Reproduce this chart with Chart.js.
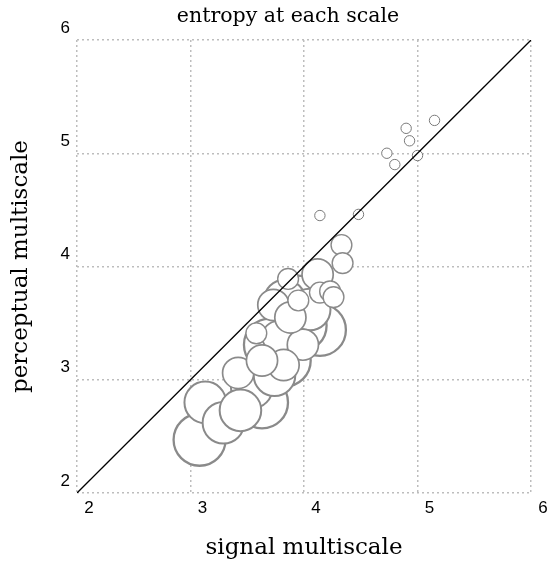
<!DOCTYPE html>
<html>
<head>
<meta charset="utf-8">
<script src="https://cdn.jsdelivr.net/npm/chart.js@4"></script>
<style>
  html, body { margin: 0; padding: 0; background: #fff; }
  #wrap { width: 550px; height: 563px; }
</style>
</head>
<body>
<div id="wrap"><canvas id="chartEntropy"></canvas></div>
<script>
// ==================== Data ====================
// one point per subject and scale: x = signal multiscale entropy, y = perceptual
const scaleLevel = [
  5, 5, 5, 5, 5, 5, 5,
  4, 4, 4, 4, 4, 4, 4,
  3, 3, 3, 3, 3, 3, 3, 3,
  2, 2, 2, 2, 2, 2, 2, 2,
  1, 1, 1, 1, 1, 1, 1, 1
];
const signalVals = [
  3.08, 3.63, 4.14, 3.95, 3.70, 3.83, 3.97,
  3.13, 3.29, 3.54, 3.83, 3.74, 3.44, 4.05,
  4.12, 3.73, 3.77, 3.99, 3.82, 3.42, 3.88, 3.63,
  3.86, 3.95, 4.14, 4.23, 4.33, 4.34, 3.58, 4.26,
  5.15, 4.90, 4.93, 4.73, 5.00, 4.80, 4.14, 4.48
];
const perceptVals = [
  2.47, 2.80, 3.44, 3.69, 3.31, 3.17, 3.48,
  2.80, 2.62, 2.93, 3.70, 3.04, 2.73, 3.62,
  3.93, 3.66, 3.38, 3.31, 3.13, 3.06, 3.55, 3.17,
  3.89, 3.70, 3.77, 3.78, 4.19, 4.03, 3.41, 3.73,
  5.29, 5.22, 5.11, 5.00, 4.98, 4.90, 4.45, 4.46
];
const diagX = [2, 6];
const axisTicks = [2, 3, 4, 5, 6];

// ==================== Helpers ====================
const serif = '"DejaVu Serif", "Liberation Serif", serif';
const sans = '"Liberation Sans", Arial, sans-serif';

const bubbles = signalVals.map((x, i) => ({ x, y: perceptVals[i], r: 5.2 * scaleLevel[i] }));
const diagonal = diagX.map(v => ({ x: v, y: v }));

const titlePlugin = {
  id: 'topTitle',
  afterDraw(chart) {
    const c = chart.ctx;
    c.save();
    c.font = '20.5px ' + serif;
    c.fillStyle = '#000';
    c.textAlign = 'center';
    c.textBaseline = 'alphabetic';
    c.fillText('entropy at each scale', 288, 22);
    c.restore();
  }
};

// ==================== Chart ====================
const ctx = document.getElementById('chartEntropy').getContext('2d');
new Chart(ctx, {
  type: 'bubble',
  data: {
    datasets: [
      {
        type: 'line',
        data: diagonal,
        borderColor: '#000',
        borderWidth: 1.3,
        pointRadius: 0,
        fill: false,
        order: 0
      },
      {
        data: bubbles,
        backgroundColor: '#fff',
        borderColor: c => scaleLevel[c.dataIndex] === 1 ? '#7a7a7a' : '#8a8a8a',
        borderWidth: c => [0, 1, 1.4, 1.7, 2, 2.3][scaleLevel[c.dataIndex]],
        order: 1
      }
    ]
  },
  options: {
    responsive: true,
    maintainAspectRatio: false,
    animation: false,
    events: [],
    layout: { autoPadding: false, padding: { top: 40, right: 19, left: 0, bottom: 0 } },
    plugins: { legend: { display: false }, tooltip: { enabled: false } },
    scales: {
      x: {
        type: 'linear', min: 2, max: 6,
        afterBuildTicks: s => { s.ticks = axisTicks.map(v => ({ value: v })); },
        afterFit: s => { s.height = 70; s.paddingLeft = 0; s.paddingRight = 0; },
        grid: { color: '#bdbdbd', lineWidth: 1.5, drawTicks: false },
        border: { display: false, dash: [2, 3] },
        ticks: { color: '#000', font: { family: sans, size: 17 }, padding: 5, labelOffset: 12, maxRotation: 0 },
        title: { display: true, text: 'signal multiscale', color: '#000', font: { family: serif, size: 23 }, padding: { top: 0, bottom: 1 } }
      },
      y: {
        type: 'linear', min: 2, max: 6,
        afterBuildTicks: s => { s.ticks = axisTicks.map(v => ({ value: v })); },
        afterFit: s => { s.width = 77; s.paddingTop = 0; s.paddingBottom = 0; },
        grid: { color: '#bdbdbd', lineWidth: 1.5, drawTicks: false },
        border: { display: false, dash: [2, 3] },
        ticks: { color: '#000', font: { family: sans, size: 17 }, padding: 7, labelOffset: -12 },
        title: { display: true, text: 'perceptual multiscale', color: '#000', font: { family: serif, size: 23 }, padding: { top: 7, bottom: 0 } }
      }
    }
  },
  plugins: [titlePlugin]
});
</script>
</body>
</html>
